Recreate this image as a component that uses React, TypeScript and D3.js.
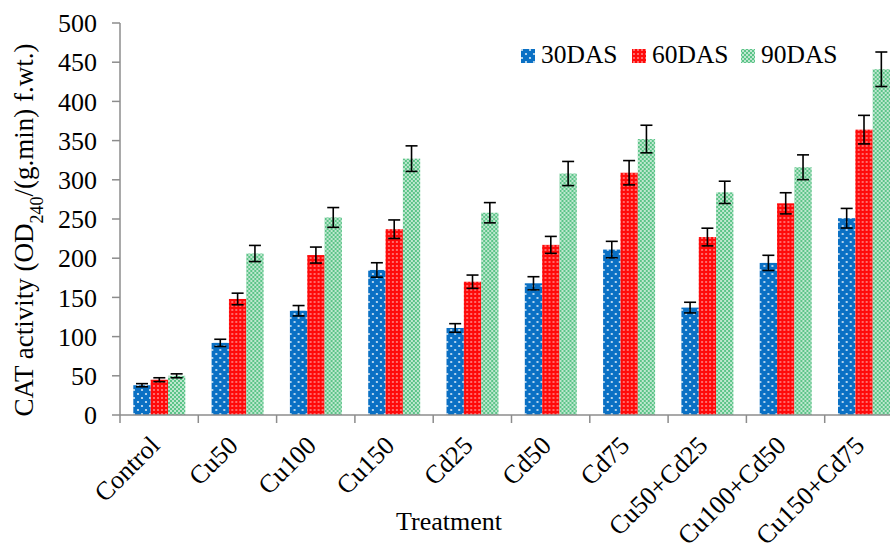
import React from "react";
import * as d3 from "d3";

const categories = ["Control", "Cu50", "Cu100", "Cu150", "Cd25", "Cd50", "Cd75", "Cu50+Cd25", "Cu100+Cd50", "Cu150+Cd75"];
const seriesNames = ["30DAS", "60DAS", "90DAS"];
const das30 = [38, 92, 133, 185, 111, 168, 211, 137, 194, 251];
const das60 = [45, 148, 204, 237, 170, 217, 309, 227, 270, 364];
const das90 = [50, 206, 252, 327, 258, 308, 352, 284, 316, 441];
const err30 = [2, 4.6, 6.6, 9.2, 5.5, 8.4, 10.5, 6.8, 9.7, 12.5];
const err60 = [2.5, 7.4, 10.2, 11.8, 8.5, 10.8, 15.5, 11.3, 13.5, 18.2];
const err90 = [2.5, 10.3, 12.6, 16.3, 12.9, 15.4, 17.6, 14.2, 15.8, 22];
const yTicks = [0, 50, 100, 150, 200, 250, 300, 350, 400, 450, 500];

const values = [das30, das60, das90];
const errors = [err30, err60, err90];
const patternIds = ["pBlue", "pRed", "pGreen"];

export default function App() {
  const W = 890, H = 547;
  const left = 120, right = 903, top = 23, bottom = 415;
  const y = d3.scaleLinear().domain([0, 500]).range([bottom, top]);
  const x = d3.scaleBand<string>().domain(categories).range([left, right]).padding(0);
  const bw = x.bandwidth();
  const xs = d3.scaleBand<string>().domain(seriesNames).range([bw * 0.17, bw * 0.834]).padding(0);
  const font = "'Liberation Serif', 'Times New Roman', serif";
  const axisColor = "#8c8c8c";

  return (
    <svg width={W} height={H} style={{ position: "absolute", left: 0, top: 0, background: "#fff" }}>
      <defs>
        <pattern id="pBlue" width={8} height={8} patternUnits="userSpaceOnUse">
          <rect width={8} height={8} fill="#0a70c4" />
          <circle cx={2} cy={2} r={1.1} fill="#fff" opacity={0.85} />
          <circle cx={6} cy={6} r={1.1} fill="#fff" opacity={0.85} />
        </pattern>
        <pattern id="pRed" width={4} height={4} patternUnits="userSpaceOnUse">
          <rect width={4} height={4} fill="#ff0a0a" />
          <rect x={1.3} y={1.3} width={1.4} height={1.4} fill="#fff" opacity={0.8} />
        </pattern>
        <pattern id="pGreen" width={4} height={4} patternUnits="userSpaceOnUse">
          <rect width={4} height={4} fill="#5cc488" />
          <rect x={0} y={0} width={2} height={2} fill="#fff" opacity={0.6} />
          <rect x={2} y={2} width={2} height={2} fill="#fff" opacity={0.6} />
        </pattern>
      </defs>

      {/* y axis */}
      <line x1={left} x2={left} y1={top} y2={bottom} stroke={axisColor} strokeWidth={1.5} />
      {yTicks.map((t) => (
        <g key={t}>
          <line x1={left - 8} x2={left} y1={y(t)} y2={y(t)} stroke={axisColor} strokeWidth={1.5} />
          <text x={97} y={y(t)} dy="0.35em" textAnchor="end" fontFamily={font} fontSize={26} fill="#000">
            {t}
          </text>
        </g>
      ))}

      {/* bars */}
      {categories.map((c, i) => (
        <g key={c} transform={`translate(${x(c)},0)`}>
          {seriesNames.map((s, k) => {
            const v = values[k][i];
            const e = errors[k][i];
            const bx = xs(s)!;
            const cx = bx + xs.bandwidth() / 2;
            return (
              <g key={s}>
                <rect x={bx} y={y(v)} width={xs.bandwidth()} height={bottom - y(v)} fill={`url(#${patternIds[k]})`} />
                <line x1={cx} x2={cx} y1={y(v + e)} y2={y(v - e)} stroke="#000" strokeWidth={1.6} />
                <line x1={cx - 6} x2={cx + 6} y1={y(v + e)} y2={y(v + e)} stroke="#000" strokeWidth={1.6} />
                <line x1={cx - 6} x2={cx + 6} y1={y(v - e)} y2={y(v - e)} stroke="#000" strokeWidth={1.6} />
              </g>
            );
          })}
        </g>
      ))}

      {/* x axis */}
      <line x1={left} x2={right} y1={bottom} y2={bottom} stroke={axisColor} strokeWidth={1.5} />
      {categories.map((c) => (
        <line key={c} x1={x(c)!} x2={x(c)!} y1={bottom} y2={bottom + 8} stroke={axisColor} strokeWidth={1.5} />
      ))}
      {categories.map((c) => {
        const cx = x(c)! + bw / 2;
        return (
          <text
            key={c}
            transform={`translate(${cx + 2},${447}) rotate(-45)`}
            textAnchor="end"
            fontFamily={font}
            fontSize={26}
            fill="#000"
          >
            {c}
          </text>
        );
      })}

      <text x={449} y={530} textAnchor="middle" fontFamily={font} fontSize={26} fill="#000">
        Treatment
      </text>

      <text transform={`translate(33,230) rotate(-90)`} textAnchor="middle" fontFamily={font} fontSize={27} fill="#000">
        CAT activity (OD<tspan baselineShift="sub" fontSize={18}>240</tspan>/(g.min) f.wt.)
      </text>

      {/* legend */}
      {seriesNames.map((s, k) => {
        const lx = [521, 632, 741][k];
        return (
          <g key={s}>
            <rect x={lx} y={49} width={14} height={14} fill={`url(#${patternIds[k]})`} />
            <text x={lx + 20} y={63} fontFamily={font} fontSize={25.5} fill="#000">
              {s}
            </text>
          </g>
        );
      })}
    </svg>
  );
}
